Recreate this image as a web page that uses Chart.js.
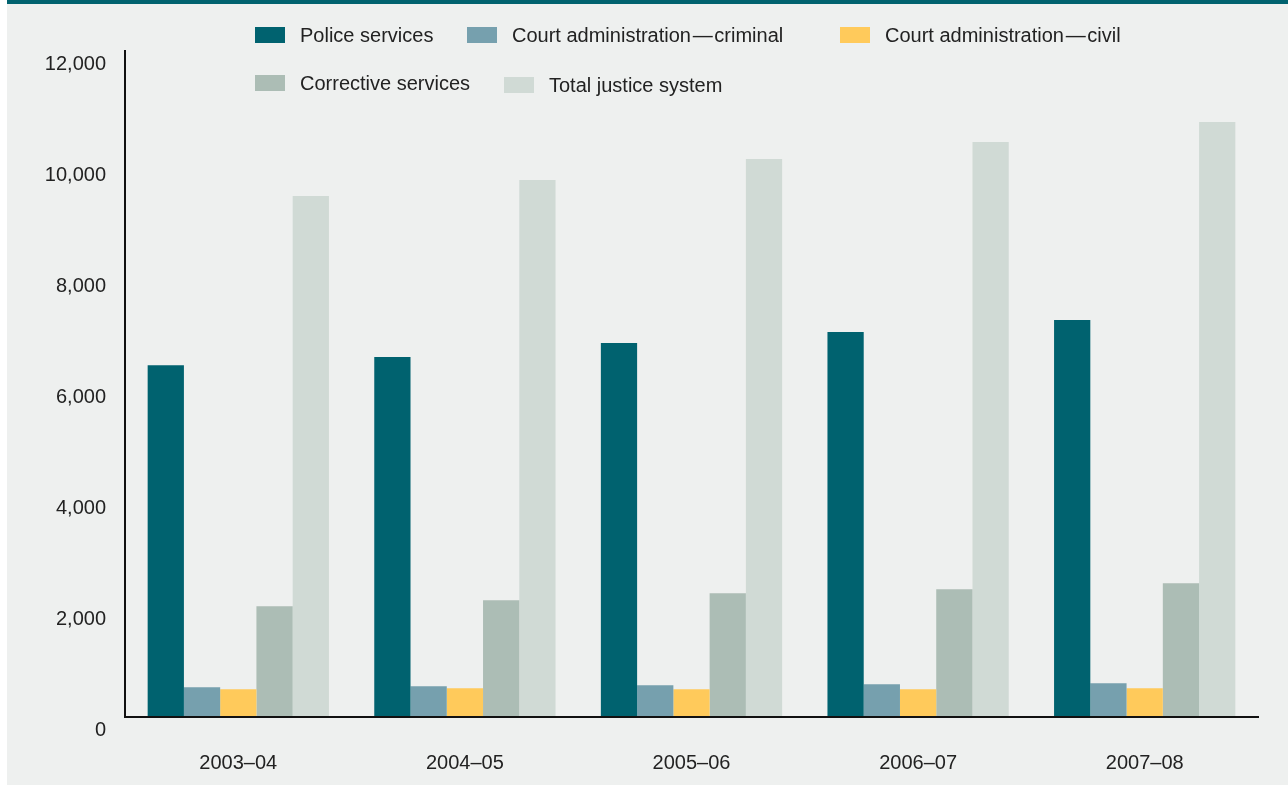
<!DOCTYPE html>
<html>
<head>
<meta charset="utf-8">
<script src="https://cdn.jsdelivr.net/npm/chart.js@4/dist/chart.umd.min.js"></script>
<style>
  html, body { margin: 0; padding: 0; background: #fff; overflow: hidden; }
  #panel {
    position: absolute; left: 7px; top: 0; width: 1281px; height: 785px;
    background: #eef0ef; border-top: 4px solid #00626f; box-sizing: border-box;
  }
  #wrap { position: absolute; left: 0; top: 0; width: 1288px; height: 785px; }
  #legend { position: absolute; left: 0; top: 0; font-family: "Liberation Sans", Arial, sans-serif; font-size: 20px; color: #222; }
  .item { position: absolute; display: flex; align-items: center; white-space: nowrap; }
  .box { width: 30px; height: 16px; margin-right: 15px; }
</style>
</head>
<body>
<div id="panel"></div>
<div id="wrap"><canvas id="justiceChart"></canvas></div>
<div id="legend"></div>
<script>
const years = ["2003\u201304", "2004\u201305", "2005\u201306", "2006\u201307", "2007\u201308"]
const police = [6340, 6485, 6737, 6935, 7152]
const courtCriminal = [535, 553, 571, 590, 608]
const courtCivil = [500, 517, 500, 500, 517]
const corrective = [1996, 2104, 2230, 2302, 2410]
const totalJustice = [9387, 9675, 10054, 10361, 10721]
const yTicks = [0, 2000, 4000, 6000, 8000, 10000, 12000]

const seriesNames = [
  "Police services",
  "Court administration\u200a\u2014\u200acriminal",
  "Court administration\u200a\u2014\u200acivil",
  "Corrective services",
  "Total justice system"
]
const seriesColors = ["#00626f", "#76a0ae", "#ffca5b", "#acbdb5", "#d0dad5"]
const seriesData = [police, courtCriminal, courtCivil, corrective, totalJustice]

// legend spots (left, top of the row)
const legendSpots = [[255, 27], [467, 27], [840, 27], [255, 75], [504, 77]]

const canvas = document.getElementById("justiceChart")

new Chart(canvas, {
  type: "bar",
  data: {
    labels: years,
    datasets: seriesNames.map((name, i) => ({
      label: name,
      data: seriesData[i],
      backgroundColor: seriesColors[i],
      borderWidth: 0,
      categoryPercentage: 0.8,
      barPercentage: 1.0
    }))
  },
  options: {
    responsive: true,
    maintainAspectRatio: false,
    animation: false,
    layout: { padding: { top: 51, right: 30, left: 0, bottom: 0 } },
    plugins: { legend: { display: false }, tooltip: { enabled: false } },
    scales: {
      x: {
        grid: { display: false, drawTicks: false },
        border: { display: true, color: "#111", width: 2, z: 1 },
        ticks: {
          padding: 34,
          color: "#222",
          font: { family: "Liberation Sans, Arial, sans-serif", size: 20 }
        },
        afterFit: (scale) => { scale.height = 68 }
      },
      y: {
        min: 0,
        max: 12000,
        afterBuildTicks: (scale) => { scale.ticks = yTicks.map((v) => ({ value: v })) },
        grid: { display: false, drawTicks: false },
        border: { display: true, color: "#111", width: 2, z: 1 },
        ticks: {
          padding: 19,
          labelOffset: 13,
          color: "#222",
          font: { family: "Liberation Sans, Arial, sans-serif", size: 20 },
          callback: (v) => v.toLocaleString("en-US")
        },
        afterFit: (scale) => { scale.width = 125 }
      }
    }
  }
})

const legend = document.getElementById("legend")
seriesNames.forEach((name, i) => {
  const item = document.createElement("div")
  item.className = "item"
  item.style.left = legendSpots[i][0] + "px"
  item.style.top = (legendSpots[i][1] - 3) + "px"
  item.style.height = "22px"
  const box = document.createElement("span")
  box.className = "box"
  box.style.background = seriesColors[i]
  const text = document.createElement("span")
  text.textContent = name
  item.appendChild(box)
  item.appendChild(text)
  legend.appendChild(item)
})
</script>
</body>
</html>
